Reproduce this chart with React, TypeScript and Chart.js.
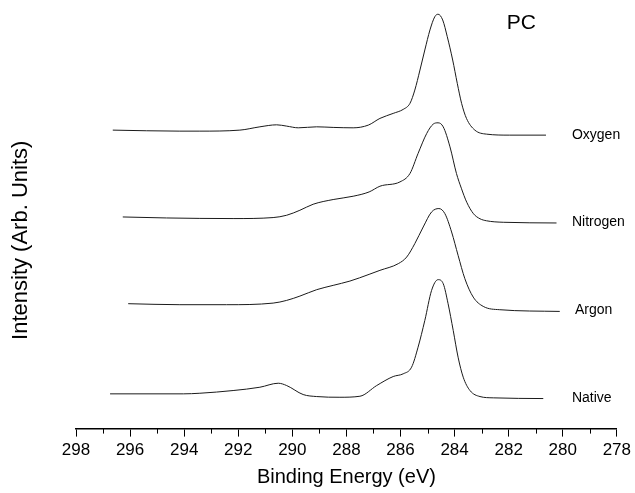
import React, { useEffect, useRef } from "react";
import { Chart, registerables } from "chart.js";

Chart.register(...registerables);

// Binding energy (eV) / intensity (arb. units, stacked with offsets)
const oxygenE = [296.64, 294.16, 293.42, 291.94, 291.2, 290.58, 290.21, 289.78, 289.1, 288.49, 287.75, 287.19, 286.76, 286.27, 285.9, 285.65, 285.47, 285.28, 285.1, 284.91, 284.73, 284.61, 284.44, 284.27, 284.07, 283.9, 283.74, 283.56, 283.25, 282.82, 281.96, 280.62];
const oxygenI = [298, 297, 297, 298, 301.3, 303.3, 302, 300.3, 301.3, 300.7, 300.3, 303, 309.7, 314.7, 318.7, 324.7, 338, 358, 378, 398, 411.3, 413.7, 408, 391.3, 368, 344.7, 324.7, 309.7, 298, 294, 293, 293];

const nitrogenE = [296.27, 294.65, 292.19, 290.71, 290.21, 289.72, 289.23, 288.49, 287.75, 287.16, 286.76, 286.02, 285.65, 285.35, 285.03, 284.79, 284.61, 284.42, 284.17, 283.93, 283.75, 283.55, 283.3, 283.06, 282.82, 282.2, 280.23];
const nitrogenI = [211.3, 210.3, 209.7, 210.7, 213, 218, 224, 228.7, 232, 236.3, 242, 246.3, 254.7, 274.7, 294.7, 304, 305.3, 301.3, 281.3, 254.7, 240, 226, 214.5, 209.5, 207.5, 206, 205.3];

const argonE = [296.07, 294.16, 292.43, 290.71, 290.21, 289.72, 289.1, 288.49, 287.87, 287.16, 286.76, 286.08, 285.77, 285.47, 285.16, 284.85, 284.58, 284.36, 284.11, 283.87, 283.62, 283.31, 282.94, 282.33, 280.11];
const argonI = [124.7, 123.7, 123.7, 125.3, 128, 132.3, 138.7, 143, 147.3, 154, 158, 164.7, 171.3, 184.7, 201.3, 216.3, 219.7, 214.7, 196.3, 173, 149.7, 131.3, 122, 118.7, 117];

const nativeE = [296.74, 294.03, 293.42, 292.19, 291.2, 290.52, 290.21, 289.6, 289.1, 288.24, 287.5, 286.88, 286.27, 285.9, 285.59, 285.35, 285.1, 284.85, 284.61, 284.42, 284.24, 284.05, 283.87, 283.68, 283.43, 283.06, 282.57, 280.72];
const nativeI = [34.7, 34.7, 35.3, 38, 41.3, 45.3, 43, 34, 32, 31.3, 32.3, 43, 52, 54.7, 61.3, 81.3, 108, 138, 148.7, 144.7, 124.7, 98, 71.3, 51.3, 38, 32, 30.7, 30];

const seriesNames = ["Oxygen", "Nitrogen", "Argon", "Native"];
const labelE = [279.66, 279.66, 279.55, 279.66];
const labelI = [293, 206, 118, 30];
const titleText = "PC";
const titleE = 282.07;
const titleI = 405;

const xTicksMajorStep = 2;
const xMin = 278;
const xMax = 298;
const minorTicks = [279, 281, 283, 285, 287, 289, 291, 293, 295, 297];

const FONT = '"Liberation Sans", Arial, Helvetica, sans-serif';

function pts(e: number[], v: number[]) {
  return e.map((x, i) => ({ x, y: v[i] }));
}

export default function App() {
  const ref = useRef<HTMLCanvasElement | null>(null);
  useEffect(() => {
    if (!ref.current) return;
    const labelsPlugin = {
      id: "annot",
      afterDraw(chart: any) {
        const { ctx, scales, chartArea } = chart;
        const xs = scales.x;
        const ys = scales.y;
        ctx.save();
        ctx.strokeStyle = "#000";
        ctx.lineWidth = 1;
        minorTicks.forEach((t) => {
          const px = Math.round(xs.getPixelForValue(t)) + 0.5;
          ctx.beginPath();
          ctx.moveTo(px, chartArea.bottom);
          ctx.lineTo(px, chartArea.bottom + 5);
          ctx.stroke();
        });
        ctx.fillStyle = "#000";
        ctx.textBaseline = "middle";
        ctx.textAlign = "left";
        ctx.font = `14px ${FONT}`;
        seriesNames.forEach((n, i) => {
          ctx.fillText(n, xs.getPixelForValue(labelE[i]), ys.getPixelForValue(labelI[i]));
        });
        ctx.font = `21px ${FONT}`;
        ctx.fillText(titleText, xs.getPixelForValue(titleE), ys.getPixelForValue(titleI));
        ctx.restore();
      },
    };
    const mk = (label: string, e: number[], v: number[]) => ({
      label,
      data: pts(e, v),
      borderColor: "#1a1a1a",
      borderWidth: 1,
      pointRadius: 0,
      fill: false,
      cubicInterpolationMode: "monotone" as const,
      clip: false as any,
    });
    const chart = new Chart(ref.current, {
      type: "line",
      data: {
        datasets: [
          mk("Oxygen", oxygenE, oxygenI),
          mk("Nitrogen", nitrogenE, nitrogenI),
          mk("Argon", argonE, argonI),
          mk("Native", nativeE, nativeI),
        ],
      },
      options: {
        animation: false,
        responsive: false,
        layout: { padding: { left: 0, right: 18, top: 52, bottom: 0 } },
        plugins: { legend: { display: false }, tooltip: { enabled: false } },
        scales: {
          x: {
            type: "linear",
            min: xMin,
            max: xMax,
            reverse: true,
            grid: {
              display: true,
              drawOnChartArea: false,
              drawTicks: true,
              tickLength: 8,
              tickColor: "#000",
              tickWidth: 1,
            },
            border: { display: true, color: "#000", width: 1.5 },
            ticks: {
              stepSize: xTicksMajorStep,
              color: "#000",
              padding: 4,
              maxRotation: 0,
              font: { family: FONT, size: 17 },
            },
            title: {
              display: true,
              text: "Binding Energy (eV)",
              color: "#000",
              font: { family: FONT, size: 20 },
              padding: { top: 0, bottom: 4 },
            },
          },
          y: {
            type: "linear",
            min: 0,
            max: 376,
            grid: { display: false, drawTicks: false },
            border: { display: false },
            ticks: { display: false },
            title: {
              display: true,
              text: "Intensity (Arb. Units)",
              color: "#000",
              font: { family: FONT, size: 22 },
              padding: { top: 8, bottom: 41.6 },
            },
          },
        },
      },
      plugins: [labelsPlugin],
    });
    return () => chart.destroy();
  }, []);
  return (
    <div style={{ position: "fixed", left: 0, top: 0, width: 635, height: 493, background: "#fff" }}>
      <canvas ref={ref} width={635} height={493} />
    </div>
  );
}
